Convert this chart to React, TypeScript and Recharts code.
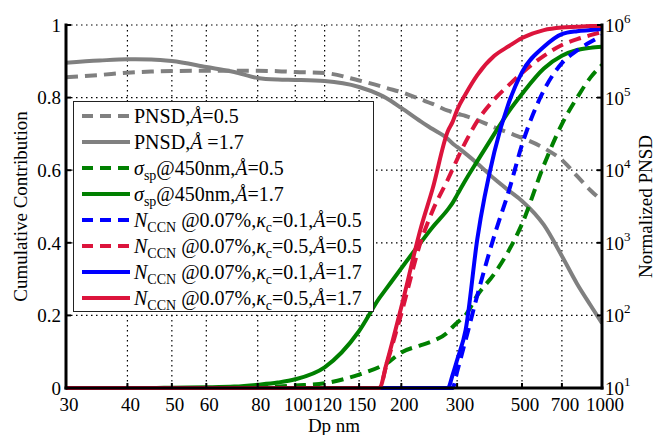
import { LineChart, Line, XAxis, YAxis, CartesianGrid, Legend } from 'recharts';

const FONT = "'Liberation Serif', 'Times New Roman', Times, 'DejaVu Serif', serif";
const GRAY = '#808080';
const GREEN = '#008000';
const BLUE = '#0000ff';
const RED = '#dc143c';
const DASH = '12 7';

// particle diameter (nm)
const DP = [30, 35, 40, 45, 50, 60, 70, 80, 90, 100, 120, 150, 172, 180, 200, 230, 250, 280, 290, 300, 320, 350, 400, 450, 500, 600, 700, 800, 900, 1000];

// normalized PNSD (right axis)
const PNSD_A05 = [1.91e5, 2.05e5, 2.2e5, 2.28e5, 2.32e5, 2.34e5, 2.34e5, 2.34e5, 2.31e5, 2.25e5, 2.18e5, 1.72e5, 1.45e5, 1.36e5, 1.19e5, 9.4e4, 8.2e4, 6.6e4, 6.3e4, 6.0e4, 5.58e4, 4.9e4, 3.9e4, 3.25e4, 2.78e4, 2.02e4, 1.38e4, 8.3e3, 5.3e3, 3.8e3];
const PNSD_A17 = [3.03e5, 3.24e5, 3.37e5, 3.35e5, 3.19e5, 2.64e5, 2.25e5, 1.86e5, 1.77e5, 1.75e5, 1.69e5, 1.4e5, 1.1e5, 9.9e4, 7.2e4, 4.66e4, 3.69e4, 2.69e4, 2.33e4, 2.09e4, 1.69e4, 1.24e4, 7.6e3, 5.2e3, 3.77e3, 1.76e3, 658, 271, 139, 78];

// cumulative contributions (left axis)
const SP_A05 = [0, 0, 0, 0, 0, 0, 0.001, 0.002, 0.004, 0.007, 0.013, 0.037, 0.058, 0.067, 0.098, 0.118, 0.129, 0.154, 0.168, 0.18, 0.201, 0.255, 0.315, 0.38, 0.452, 0.614, 0.727, 0.8, 0.855, 0.89];
const SP_A17 = [0, 0, 0, 0, 0.001, 0.002, 0.004, 0.009, 0.015, 0.024, 0.057, 0.157, 0.248, 0.273, 0.33, 0.402, 0.443, 0.492, 0.51, 0.532, 0.573, 0.625, 0.7, 0.763, 0.81, 0.88, 0.915, 0.931, 0.937, 0.94];
const CCN01_A05 = [0, 0, 0, 0, 0, 0, 0, 0, 0, 0, 0, 0, 0, 0, 0, 0, 0, 0, 0, 0.045, 0.132, 0.255, 0.42, 0.545, 0.67, 0.82, 0.895, 0.93, 0.953, 0.97];
const CCN05_A05 = [0, 0, 0, 0, 0, 0, 0, 0, 0, 0, 0, 0, 0, 0.06, 0.205, 0.405, 0.488, 0.575, 0.603, 0.63, 0.678, 0.735, 0.795, 0.835, 0.868, 0.915, 0.945, 0.961, 0.972, 0.981];
const CCN01_A17 = [0, 0, 0, 0, 0, 0, 0, 0, 0, 0, 0, 0, 0, 0, 0, 0, 0, 0, 0.036, 0.077, 0.16, 0.41, 0.65, 0.788, 0.87, 0.94, 0.975, 0.983, 0.986, 0.989];
const CCN05_A17 = [0, 0, 0, 0, 0, 0, 0, 0, 0, 0, 0, 0, 0, 0.063, 0.223, 0.443, 0.548, 0.708, 0.733, 0.766, 0.81, 0.862, 0.915, 0.942, 0.964, 0.986, 0.993, 0.995, 0.997, 0.997];

const X_TICKS = [30, 40, 50, 60, 80, 100, 120, 150, 200, 300, 500, 700, 1000];
const LEFT_TICKS = [0, 0.2, 0.4, 0.6, 0.8, 1];
const RIGHT_TICKS = [10, 100, 1000, 1e4, 1e5, 1e6];

const data = DP.map((dp, i) => ({
  x: Math.log10(dp),
  pnsd05: PNSD_A05[i],
  pnsd17: PNSD_A17[i],
  sp05: SP_A05[i],
  sp17: SP_A17[i],
  ccn01a05: CCN01_A05[i],
  ccn05a05: CCN05_A05[i],
  ccn01a17: CCN01_A17[i],
  ccn05a17: CCN05_A17[i],
}));

const subStyle = { fontSize: 14, verticalAlign: '-5px', lineHeight: 0, fontStyle: 'normal' as const };

const ccn = (k: string, a: string) => (
  <>
    <i>N</i>
    <sub style={subStyle}>CCN</sub> @0.07%,<i>κ</i>
    <sub style={subStyle}>c</sub>={k},<i>Å</i>={a}
  </>
);

const SERIES = [
  { key: 'pnsd05', color: GRAY, dashed: true, label: <>PNSD,<i>Å</i>=0.5</> },
  { key: 'pnsd17', color: GRAY, dashed: false, label: <>PNSD,<i>Å</i> =1.7</> },
  { key: 'sp05', color: GREEN, dashed: true, label: <><i>σ</i><sub style={subStyle}>sp</sub>@450nm,<i>Å</i>=0.5</> },
  { key: 'sp17', color: GREEN, dashed: false, label: <><i>σ</i><sub style={subStyle}>sp</sub>@450nm,<i>Å</i>=1.7</> },
  { key: 'ccn01a05', color: BLUE, dashed: true, label: ccn('0.1', '0.5') },
  { key: 'ccn05a05', color: RED, dashed: true, label: ccn('0.5', '0.5') },
  { key: 'ccn01a17', color: BLUE, dashed: false, label: ccn('0.1', '1.7') },
  { key: 'ccn05a17', color: RED, dashed: false, label: ccn('0.5', '1.7') },
];

function LegendBox() {
  return (
    <div
      style={{
        width: 301,
        height: 211,
        boxSizing: 'border-box',
        border: '1px solid #222',
        background: '#fff',
        paddingTop: 1,
        fontFamily: FONT,
        fontSize: 20,
        color: '#000',
      }}
    >
      {SERIES.map((s) => (
        <div key={s.key} style={{ display: 'flex', alignItems: 'center', height: 26 }}>
          <svg width={57} height={10} style={{ flex: 'none' }}>
            <line x1={8} x2={56} y1={5} y2={5} stroke={s.color} strokeWidth={4} strokeDasharray={s.dashed ? '11 7' : undefined} />
          </svg>
          <span style={{ marginLeft: 3, whiteSpace: 'nowrap', lineHeight: '26px' }}>{s.label}</span>
        </div>
      ))}
    </div>
  );
}

function PowTick({ x, y, payload }: any) {
  const exp = Math.round(Math.log10(payload.value));
  return (
    <text x={x} y={y} dy={7} fontFamily={FONT} fontSize={19} fill="#000" textAnchor="start">
      10
      <tspan dy={-9} fontSize={13}>
        {exp}
      </tspan>
    </text>
  );
}

const axisLine = { stroke: '#000', strokeWidth: 3, strokeLinecap: 'square' as const };
const tickLine = { stroke: '#000', strokeWidth: 2 };
const tickFont = { fill: '#000', fontSize: 19, fontFamily: FONT };
const xDomain = [Math.log10(30), Math.log10(1000)];

export default function App() {
  return (
    <div style={{ position: 'absolute', left: 0, top: 0, width: 656, height: 435, background: '#fff', fontFamily: FONT }}>
      <LineChart width={656} height={435} data={data} margin={{ top: 25, right: 0, bottom: 0, left: 6 }} style={{ fontFamily: FONT }}>
        <CartesianGrid stroke="#000" strokeDasharray="1.5 3.5" strokeWidth={1.2} />
        <XAxis
          dataKey="x"
          type="number"
          scale="log"
          domain={xDomain}
          allowDataOverflow
          ticks={X_TICKS.map((t) => Math.log10(t))}
          interval={0}
          tickFormatter={(v: number) => String(Math.round(Math.pow(10, v)))}
          height={47}
          axisLine={axisLine}
          tickLine={tickLine}
          tickSize={-5}
          tickMargin={15}
          tick={{ ...tickFont, dx: 3 }}
          label={{ value: 'Dp nm', position: 'insideBottom', offset: 3, style: { fontSize: 19, fontFamily: FONT, fill: '#000' } }}
        />
        <XAxis
          xAxisId="top"
          dataKey="x"
          type="number"
          orientation="top"
          scale="log"
          domain={xDomain}
          allowDataOverflow
          ticks={X_TICKS.map((t) => Math.log10(t))}
          interval={0}
          height={0}
          tick={false}
          axisLine={axisLine}
          tickLine={tickLine}
          tickSize={-5}
        />
        <YAxis
          type="number"
          domain={[0, 1]}
          ticks={LEFT_TICKS}
          interval={0}
          width={60}
          axisLine={axisLine}
          tickLine={tickLine}
          tickSize={-5}
          tickMargin={10}
          tick={tickFont}
          label={{
            value: 'Cumulative Contribution',
            angle: -90,
            position: 'insideLeft',
            offset: 14,
            style: { textAnchor: 'middle', fontSize: 19, fontFamily: FONT, fill: '#000' },
          }}
        />
        <YAxis
          yAxisId="r"
          orientation="right"
          type="number"
          scale="log"
          domain={[10, 1e6]}
          allowDataOverflow
          ticks={RIGHT_TICKS}
          interval={0}
          width={54}
          axisLine={axisLine}
          tickLine={tickLine}
          tickSize={-5}
          tickMargin={8}
          tick={<PowTick />}
          label={{
            value: 'Normalized PNSD',
            angle: -90,
            position: 'insideRight',
            offset: 11,
            style: { textAnchor: 'middle', fontSize: 19, fontFamily: FONT, fill: '#000' },
          }}
        />
        {SERIES.map((s) => (
          <Line
            key={s.key}
            dataKey={s.key}
            yAxisId={s.key.startsWith('pnsd') ? 'r' : 0}
            type="monotone"
            stroke={s.color}
            strokeWidth={4}
            strokeDasharray={s.dashed ? DASH : undefined}
            dot={false}
            activeDot={false}
            isAnimationActive={false}
          />
        ))}
        <Legend
          layout="vertical"
          align="center"
          verticalAlign="middle"
          content={() => <LegendBox />}
          wrapperStyle={{ left: 73, top: 101, width: 301, height: 211 }}
        />
      </LineChart>
    </div>
  );
}
